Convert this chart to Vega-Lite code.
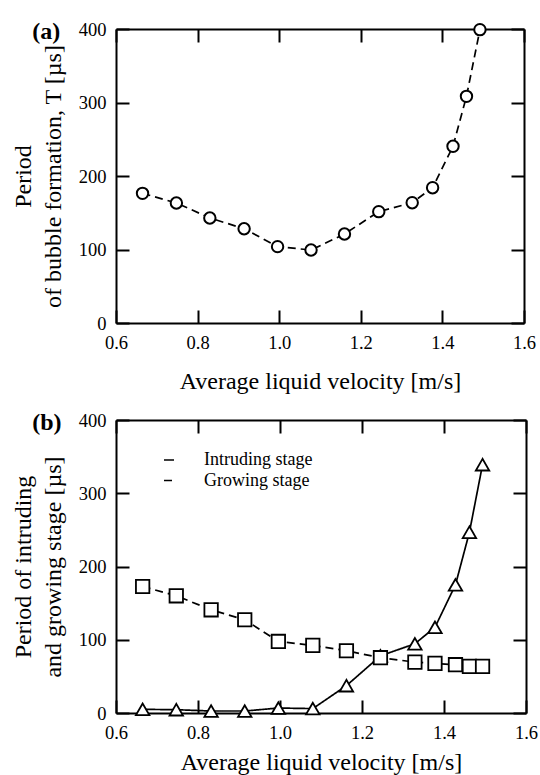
{
  "$schema": "https://vega.github.io/schema/vega-lite/v6.json",
  "padding": {"left": 11, "top": 19, "right": 8, "bottom": 2},
  "spacing": 17,
  "config": {
    "font": "serif",
    "view": {"stroke": null},
    "axis": {
      "domainColor": "black", "domainWidth": 2,
      "tickColor": "black", "tickWidth": 2, "tickSize": -13,
      "labelFont": "serif", "labelFontSize": 18.5, "labelColor": "black",
      "labelFlush": false, "labelOverlap": false, "labelPadding": 23,
      "titleFont": "serif", "titleFontSize": 24, "titleFontWeight": "normal",
      "titleColor": "black", "titleLineHeight": 30, "grid": false
    },
    "axisX": {"titlePadding": 18},
    "axisY": {"titlePadding": 13},
    "legend": {"labelFont": "serif"},
    "title": {"font": "serif", "fontSize": 24, "fontWeight": "bold", "color": "black"}
  },
  "resolve": {"scale": {"strokeDash": "independent", "shape": "independent"}, "legend": {"strokeDash": "independent", "shape": "independent"}},
  "vconcat": [
    {
      "width": 408, "height": 294,
      "title": {"text": "(a)", "anchor": "start", "frame": "bounds", "dx": 21, "dy": 24, "offset": 0},
      "data": {"values": [
        {"v": 0.665, "T": 176.4}, {"v": 0.748, "T": 163.3}, {"v": 0.830, "T": 142.9},
        {"v": 0.914, "T": 128.3}, {"v": 0.996, "T": 103.9}, {"v": 1.078, "T": 99.3},
        {"v": 1.160, "T": 121.1}, {"v": 1.244, "T": 151.5}, {"v": 1.326, "T": 163.7},
        {"v": 1.376, "T": 184.1}, {"v": 1.426, "T": 240.4}, {"v": 1.459, "T": 308.4},
        {"v": 1.492, "T": 399.1}
      ]},
      "layer": [
        {
          "mark": {"type": "line", "strokeDash": [8, 5], "color": "black", "strokeWidth": 1.7},
          "encoding": {
            "x": {"field": "v", "type": "quantitative", "scale": {"domain": [0.6, 1.6], "nice": false},
                  "axis": {"title": "Average liquid velocity [m/s]", "values": [0.6, 0.8, 1.0, 1.2, 1.4, 1.6], "format": ".1f", "labelFont": "serif"}},
            "y": {"field": "T", "type": "quantitative", "scale": {"domain": [0, 400], "nice": false},
                  "axis": {"title": ["Period", "of bubble formation, T [µs]"], "values": [0, 100, 200, 300, 400], "labelFont": "serif"}}
          }
        },
        {
          "mark": {"type": "point", "shape": "circle", "filled": true, "fill": "white", "stroke": "black", "strokeWidth": 2, "size": 130, "opacity": 1, "clip": false},
          "encoding": {
            "x": {"field": "v", "type": "quantitative",
                  "axis": {"orient": "top", "labels": false, "title": null, "values": [0.6, 0.8, 1.0, 1.2, 1.4, 1.6]}},
            "y": {"field": "T", "type": "quantitative",
                  "axis": {"orient": "right", "labels": false, "title": null, "values": [0, 100, 200, 300, 400]}}
          }
        }
      ],
      "resolve": {"axis": {"x": "independent", "y": "independent"}}
    },
    {
      "width": 410, "height": 293,
      "title": {"text": "(b)", "anchor": "start", "frame": "bounds", "dx": 21, "dy": 24, "offset": 0},
      "data": {"values": [
        {"v": 0.665, "T": 5.0, "series": "Intruding stage"},
        {"v": 0.747, "T": 4.5, "series": "Intruding stage"},
        {"v": 0.832, "T": 2.7, "series": "Intruding stage"},
        {"v": 0.914, "T": 2.7, "series": "Intruding stage"},
        {"v": 0.996, "T": 6.8, "series": "Intruding stage"},
        {"v": 1.080, "T": 6.0, "series": "Intruding stage"},
        {"v": 1.162, "T": 37.3, "series": "Intruding stage"},
        {"v": 1.245, "T": 78.0, "series": "Intruding stage"},
        {"v": 1.329, "T": 94.5, "series": "Intruding stage"},
        {"v": 1.378, "T": 117.0, "series": "Intruding stage"},
        {"v": 1.428, "T": 175.0, "series": "Intruding stage"},
        {"v": 1.462, "T": 246.8, "series": "Intruding stage"},
        {"v": 1.494, "T": 339.0, "series": "Intruding stage"},
        {"v": 0.665, "T": 172.7, "series": "Growing stage"},
        {"v": 0.747, "T": 160.0, "series": "Growing stage"},
        {"v": 0.832, "T": 140.9, "series": "Growing stage"},
        {"v": 0.914, "T": 127.3, "series": "Growing stage"},
        {"v": 0.996, "T": 97.7, "series": "Growing stage"},
        {"v": 1.080, "T": 92.3, "series": "Growing stage"},
        {"v": 1.162, "T": 85.0, "series": "Growing stage"},
        {"v": 1.245, "T": 75.5, "series": "Growing stage"},
        {"v": 1.329, "T": 69.5, "series": "Growing stage"},
        {"v": 1.378, "T": 67.7, "series": "Growing stage"},
        {"v": 1.428, "T": 65.9, "series": "Growing stage"},
        {"v": 1.462, "T": 63.6, "series": "Growing stage"},
        {"v": 1.494, "T": 63.6, "series": "Growing stage"}
      ]},
      "layer": [
        {
          "mark": {"type": "line", "color": "black", "strokeWidth": 1.7},
          "encoding": {
            "x": {"field": "v", "type": "quantitative", "scale": {"domain": [0.6, 1.6], "nice": false},
                  "axis": {"title": "Average liquid velocity [m/s]", "values": [0.6, 0.8, 1.0, 1.2, 1.4, 1.6], "format": ".1f", "labelFont": "serif", "titlePadding": 9}},
            "y": {"field": "T", "type": "quantitative", "scale": {"domain": [0, 400], "nice": false},
                  "axis": {"title": ["Period of intruding", "and growing stage [µs]"], "values": [0, 100, 200, 300, 400], "labelFont": "serif"}},
            "strokeDash": {"field": "series", "type": "nominal",
                           "scale": {"domain": ["Intruding stage", "Growing stage"], "range": [[1, 0], [8, 5]]},
                           "legend": {
                             "title": null, "orient": "none", "legendX": 29, "legendY": 31,
                             "labelFont": "serif", "labelFontSize": 18, "labelColor": "black",
                             "symbolOffset": 15, "labelOffset": 26, "rowPadding": 2.5,
                             "encode": {"symbols": {
                               "size": {"value": 100},
                               "fill": {"value": "white"},
                               "stroke": {"value": "black"},
                               "strokeWidth": {"value": 1.7},
                               "strokeDash": {"value": [1, 0]},
                               "opacity": {"value": 1},
                               "shape": {
                                 "condition": {"test": "datum.value == 'Intruding stage'", "value": "M-4,0.1H4M-0.8,0.1L0,-1.3L0.8,0.1Z"},
                                 "value": "M-4,0H-2.9M-2.3,0H-0.8M0.8,0H2.3M2.9,0H4M-0.8,-0.8H0.8V0.8H-0.8Z"
                               }
                             }}
                           }}
          }
        },
        {
          "mark": {"type": "point", "filled": true, "fill": "white", "stroke": "black", "strokeWidth": 1.8, "size": 180, "opacity": 1, "clip": false},
          "encoding": {
            "x": {"field": "v", "type": "quantitative",
                  "axis": {"orient": "top", "labels": false, "title": null, "values": [0.6, 0.8, 1.0, 1.2, 1.4, 1.6]}},
            "y": {"field": "T", "type": "quantitative",
                  "axis": {"orient": "right", "labels": false, "title": null, "values": [0, 100, 200, 300, 400]}},
            "shape": {"field": "series", "type": "nominal",
                      "scale": {"domain": ["Growing stage", "Intruding stage"], "range": ["square", "triangle-up"]},
                      "legend": null}
          }
        }
      ],
      "resolve": {"axis": {"x": "independent", "y": "independent"}}
    }
  ]
}
